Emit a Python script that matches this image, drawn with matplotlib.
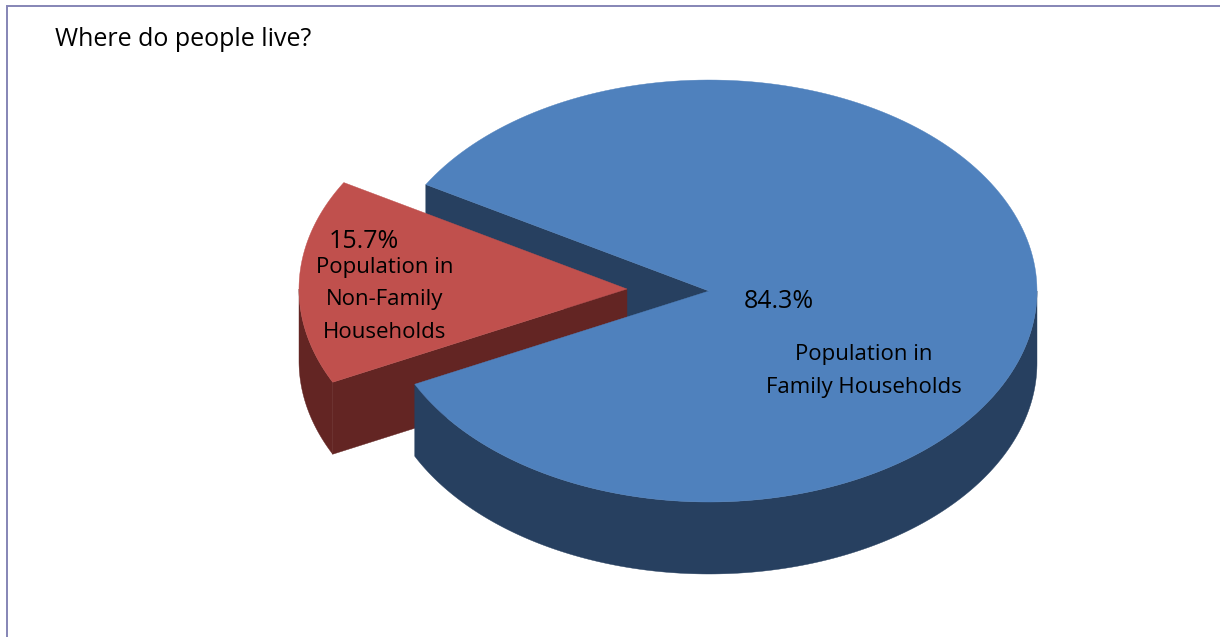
import numpy as np
import matplotlib
matplotlib.use("Agg")
import matplotlib.pyplot as plt
from matplotlib.patches import Polygon

title = "Where do people live?"
shares = [84.3, 15.7]
share_labels = ["84.3%", "15.7%"]
names = ["Population in\nFamily Households", "Population in\nNon-Family\nHouseholds"]

plt.rcParams['font.family'] = ['Open Sans', 'DejaVu Sans']

fig = plt.figure(figsize=(12.2, 6.37), dpi=100)
ax = fig.add_axes([0, 0, 1, 1])
ax.set_xlim(0, 1220)
ax.set_ylim(637, 0)
ax.axis('off')

# pie geometry, in picture pixels
cx, cy = 709, 291
rx, ry = 328, 211
depth = 72
pull = 82
lift = 2
red_start = 149.7
red_end = red_start + shares[1] / sum(shares) * 360

BLUE, BLUE_DARK = '#4F81BD', '#274060'
RED, RED_DARK = '#C0504D', '#632523'


def rim(a, b, ox=0, oy=0):
    t = np.radians(np.linspace(a, b, 200))
    return np.column_stack([cx + ox + rx * np.cos(t), cy + oy - ry * np.sin(t)])


def draw(pts, color, z):
    ax.add_patch(Polygon(pts, closed=True, facecolor=color, edgecolor=color, linewidth=0.3, zorder=z))


def wall(a, b, ox=0, oy=0):
    # outer side of a slice, the rim pushed down by the depth
    r = rim(a, b, ox, oy)
    return np.vstack([r, r[::-1] + [0, depth]])


def cut(angle, ox=0, oy=0):
    # flat side of a slice, from the centre out to the rim
    p = rim(angle, angle, ox, oy)[0]
    c = np.array([cx + ox, cy + oy])
    return [c, p, p + [0, depth], c + [0, depth]]


# blue, back wall of the gap
draw(cut(red_start), BLUE_DARK, 1)

# red slice, pulled out to the left
draw(wall(180, red_end, -pull, -lift), RED_DARK, 2)
draw(cut(red_end, -pull, -lift), RED_DARK, 2)
draw(np.vstack([[cx - pull, cy - lift], rim(red_start, red_end, -pull, -lift)]), RED, 3)

# blue slice
draw(wall(red_end, 360), BLUE_DARK, 4)
draw(np.vstack([[cx, cy], rim(red_end, red_start + 360)]), BLUE, 5)

# frame, open on the right and at the bottom
ax.plot([7, 7, 1220], [637, 6, 6], color='#8585B5', lw=1.4, zorder=6, solid_joinstyle='miter')

ax.text(55, 39, title, fontsize=18, ha='left', va='center', color='black', zorder=7)
ax.text(779, 301, share_labels[0], fontsize=18, ha='center', va='center', zorder=7)
ax.text(364, 241, share_labels[1], fontsize=18, ha='center', va='center', zorder=7)
ax.text(864, 371, names[0], fontsize=16, ha='center', va='center', linespacing=1.72, zorder=7)
ax.text(385, 300, names[1], fontsize=16, ha='center', va='center', linespacing=1.72, zorder=7)

fig.savefig('out.png', dpi=100)
